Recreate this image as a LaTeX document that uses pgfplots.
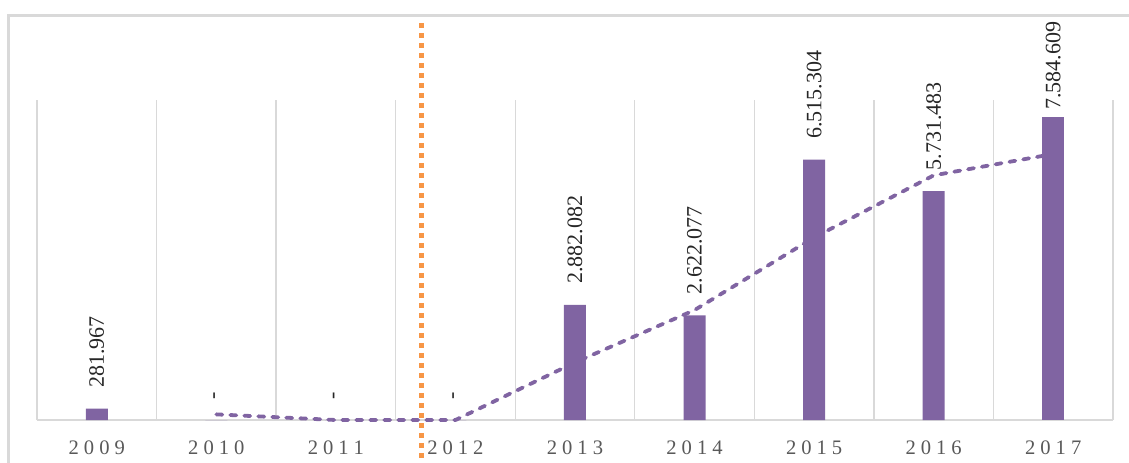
\documentclass[border=0pt]{standalone}
\usepackage{fontspec}
\setmainfont{Liberation Serif}
\usepackage{pgfplots}
\pgfplotsset{compat=1.18}
\definecolor{barpurple}{HTML}{8064A2}
\definecolor{trendorange}{HTML}{F79646}
\definecolor{gridgray}{HTML}{D9D9D9}
\definecolor{ticktext}{HTML}{595959}
% letter-spaced year labels
\newcommand\ls[4]{\textrm{#1\kern2.5pt#2\kern2.5pt#3\kern2.5pt#4}}
\tikzset{lbl/.style={rotate=90, anchor=west, inner ysep=0pt, outer sep=0pt,
    font=\fontsize{11}{13}\selectfont, text=black!85}}

\begin{document}
\begin{tikzpicture}
\useasboundingbox (0,0) rectangle (564.5pt,-231pt);
\draw[gridgray, line width=1.5pt] (4.25pt,-240pt) -- (4.25pt,-7.5pt) -- (570pt,-7.5pt);
\begin{axis}[
  at={(18.5pt,-210pt)}, anchor=south west,
  scale only axis, width=538pt, height=160pt,
  xmin=-0.5, xmax=8.5, ymin=0, ymax=8010,
  axis y line=none, axis x line*=bottom,
  x axis line style={gridgray, line width=0.7pt, -},
  xtick={0,...,8},
  xticklabels={\ls 2009,\ls 2010,\ls 2011,\ls 2012,\ls 2013,\ls 2014,\ls 2015,\ls 2016,\ls 2017},
  major tick length=0pt, minor tick length=0pt,
  xticklabel style={font=\fontsize{10.3}{12}\selectfont, text=ticktext, anchor=north, inner sep=0pt},
  xticklabel shift=10pt,
  minor xtick={-0.5,0.5,...,8.5},
  xminorgrids=true,
  minor grid style={gridgray, line width=0.7pt},
  clip=false,
]
\addplot[ybar, bar width=11pt, bar shift=0pt, fill=barpurple, draw=none,
  point meta=explicit symbolic, nodes near coords,
  nodes near coords style={lbl, inner xsep=10.5pt}]
  coordinates {(0,281.967) [281.967] (1,0) [-] (2,0) [-] (3,0) [-]
    (4,2882.082) [2.882.082] (5,2622.077) [2.622.077]
    (6,6515.304) [6.515.304] (7,5731.483) [5.731.483]};
\addplot[ybar, bar width=11pt, bar shift=0pt, fill=barpurple, draw=none,
  point meta=explicit symbolic, nodes near coords,
  nodes near coords style={lbl, inner xsep=3.5pt}]
  coordinates {(8,7584.609) [7.584.609]};
% two-period moving average
\addplot[barpurple, line width=1.9pt, dash pattern=on 3pt off 4pt, line cap=round]
  coordinates {(1,140.98) (2,0) (3,0) (4,1441.04) (5,2752.08) (6,4568.69) (7,6123.39) (8,6658.05)};
% marker line
\addplot[trendorange, line width=2.5pt, dash pattern=on 2.5pt off 2.5pt]
  coordinates {(2.712,9937) (2.712,-1300)};
\end{axis}
\end{tikzpicture}
\end{document}
